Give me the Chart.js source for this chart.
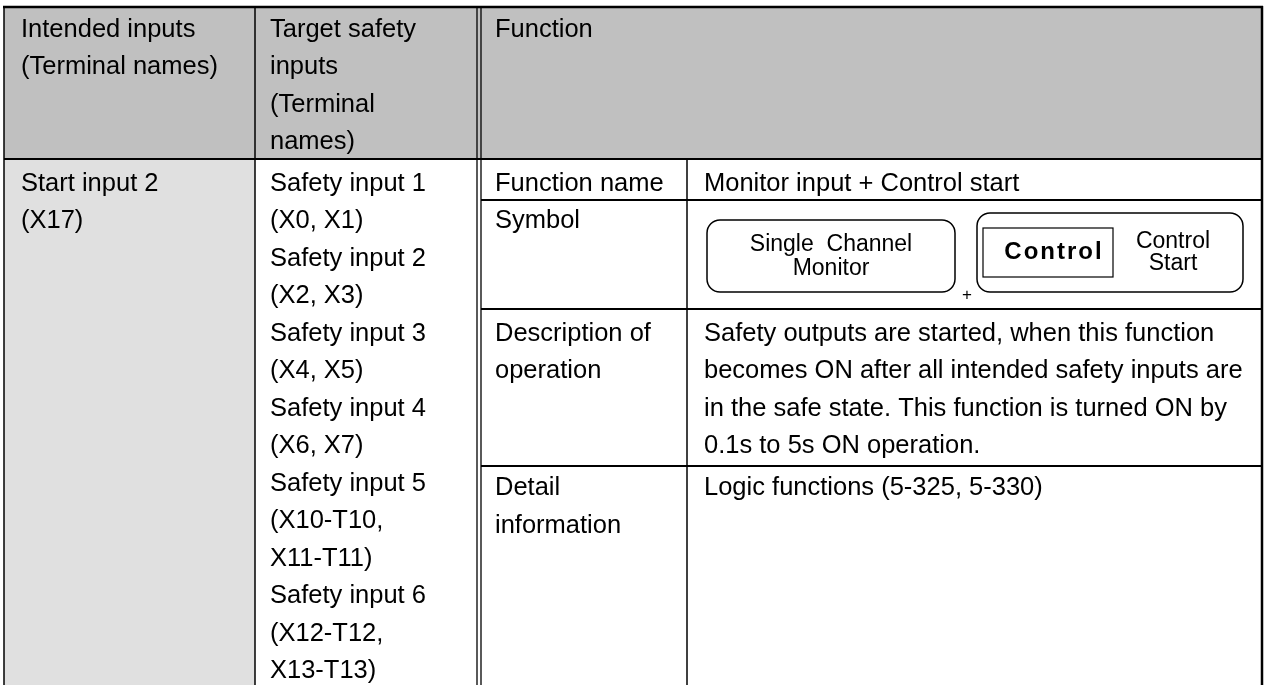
<!DOCTYPE html>
<html>
<head>
<meta charset="utf-8">
<script src="https://cdn.jsdelivr.net/npm/chart.js@4.4.0/dist/chart.umd.min.js"></script>
<style>
    html, body { margin: 0; padding: 0; background: #fff; }
    #wrap { width: 1269px; height: 685px; position: relative; }
</style>
</head>
<body>
<div id="wrap"><canvas id="tableChart"></canvas></div>
<script>
// table content
const headerLabels = [
    ['Intended inputs', '(Terminal names)'],
    ['Target safety', 'inputs', '(Terminal', 'names)'],
    ['Function']
];
const intendedInputs = ['Start input 2', '(X17)'];
const targetInputs = [
    'Safety input 1', '(X0, X1)',
    'Safety input 2', '(X2, X3)',
    'Safety input 3', '(X4, X5)',
    'Safety input 4', '(X6, X7)',
    'Safety input 5', '(X10-T10,', 'X11-T11)',
    'Safety input 6', '(X12-T12,', 'X13-T13)'
];
const itemNames = [['Function name'], ['Symbol'], ['Description of', 'operation'], ['Detail', 'information']];
const itemValues = [
    ['Monitor input + Control start'],
    [],
    ['Safety outputs are started, when this function',
     'becomes ON after all intended safety inputs are',
     'in the safe state. This function is turned ON by',
     '0.1s to 5s ON operation.'],
    ['Logic functions (5-325, 5-330)']
];
const symbolLeft = ['Single  Channel', 'Monitor'];
const symbolTag = 'Control';
const symbolRight = ['Control', 'Start'];

// layout
const colX = [4, 255, 477, 481, 687, 1262];
const topY = 7, headY = 159, itemY = [200, 309, 466], bottomY = 685;
const lineH = 37.5;
const FONT = '"Liberation Sans", Arial, sans-serif';

function roundRect(ctx, x, y, w, h, r) {
    ctx.beginPath();
    ctx.moveTo(x + r, y);
    ctx.arcTo(x + w, y, x + w, y + h, r);
    ctx.arcTo(x + w, y + h, x, y + h, r);
    ctx.arcTo(x, y + h, x, y, r);
    ctx.arcTo(x, y, x + w, y, r);
    ctx.closePath();
    ctx.stroke();
}

const tablePlugin = {
    id: 'tablePlugin',
    afterDraw(chart) {
        const ctx = chart.ctx;
        const X = v => chart.scales.x.getPixelForValue(v);
        const Y = v => chart.scales.y.getPixelForValue(v);

        ctx.save();
        // backgrounds
        ctx.fillStyle = '#c0c0c0';
        ctx.fillRect(X(colX[0]), Y(topY), X(colX[5]) - X(colX[0]), Y(headY) - Y(topY));
        ctx.fillStyle = '#e0e0e0';
        ctx.fillRect(X(colX[0]), Y(headY), X(colX[1]) - X(colX[0]), Y(bottomY) - Y(headY));

        // lines
        ctx.strokeStyle = '#000';
        const hline = (x1, x2, y, w) => {
            ctx.lineWidth = w; ctx.beginPath();
            ctx.moveTo(X(x1), Y(y)); ctx.lineTo(X(x2), Y(y)); ctx.stroke();
        };
        const vline = (x, y1, y2, w) => {
            ctx.lineWidth = w; ctx.beginPath();
            ctx.moveTo(X(x), Y(y1)); ctx.lineTo(X(x), Y(y2)); ctx.stroke();
        };
        hline(colX[0] - 1, colX[5] + 1, topY, 2.5);
        hline(colX[0], colX[5], headY, 2);
        itemY.forEach(y => hline(colX[3], colX[5], y, 2));
        vline(colX[0], topY, bottomY, 1.5);
        vline(colX[1], topY, bottomY, 1.5);
        vline(colX[2], topY, bottomY, 1.3);
        vline(colX[3], topY, bottomY, 1.3);
        vline(colX[4], headY, bottomY, 1.5);
        vline(colX[5], topY - 1, bottomY, 2.5);

        // text
        ctx.fillStyle = '#000';
        ctx.font = '25.5px ' + FONT;
        ctx.textBaseline = 'alphabetic';
        ctx.textAlign = 'left';
        const lines = (arr, x, y0) => arr.forEach((t, i) => ctx.fillText(t, X(x), Y(y0 + i * lineH)));

        lines(headerLabels[0], 21, 36.5);
        lines(headerLabels[1], 270, 36.5);
        lines(headerLabels[2], 495, 36.5);
        lines(intendedInputs, 21, 190.5);
        lines(targetInputs, 270, 190.5);

        const nameY = [190.5, 228, 340.5, 495];
        itemNames.forEach((arr, i) => lines(arr, 495, nameY[i]));
        itemValues.forEach((arr, i) => lines(arr, 704, nameY[i]));

        // symbol boxes
        ctx.lineWidth = 1.5;
        roundRect(ctx, X(707), Y(220), X(955) - X(707), Y(292) - Y(220), 13);
        roundRect(ctx, X(977), Y(213), X(1243) - X(977), Y(292) - Y(213), 13);
        ctx.lineWidth = 1.2;
        ctx.strokeRect(X(983), Y(228), X(1113) - X(983), Y(277) - Y(228));

        ctx.textAlign = 'center';
        ctx.font = '23px ' + FONT;
        ctx.fillText(symbolLeft[0], X(831), Y(251));
        ctx.fillText(symbolLeft[1], X(831), Y(275));
        ctx.fillText(symbolRight[0], X(1173), Y(248));
        ctx.fillText(symbolRight[1], X(1173), Y(270));
        ctx.font = 'bold 24px ' + FONT;
        ctx.letterSpacing = '2px';
        ctx.fillText(symbolTag, X(1054), Y(259));
        ctx.letterSpacing = '0px';
        ctx.font = '17px ' + FONT;
        ctx.fillText('+', X(967), Y(300));
        ctx.restore();
    }
};

const chart = new Chart(document.getElementById('tableChart'), {
    type: 'scatter',
    data: { datasets: [] },
    options: {
        responsive: true,
        maintainAspectRatio: false,
        animation: false,
        devicePixelRatio: 1,
        events: [],
        layout: { padding: 0 },
        scales: {
            x: { type: 'linear', min: 0, max: 1269, display: false },
            y: { type: 'linear', min: 0, max: 685, reverse: true, display: false }
        },
        plugins: { legend: { display: false }, tooltip: { enabled: false } }
    },
    plugins: [tablePlugin]
});
</script>
</body>
</html>
